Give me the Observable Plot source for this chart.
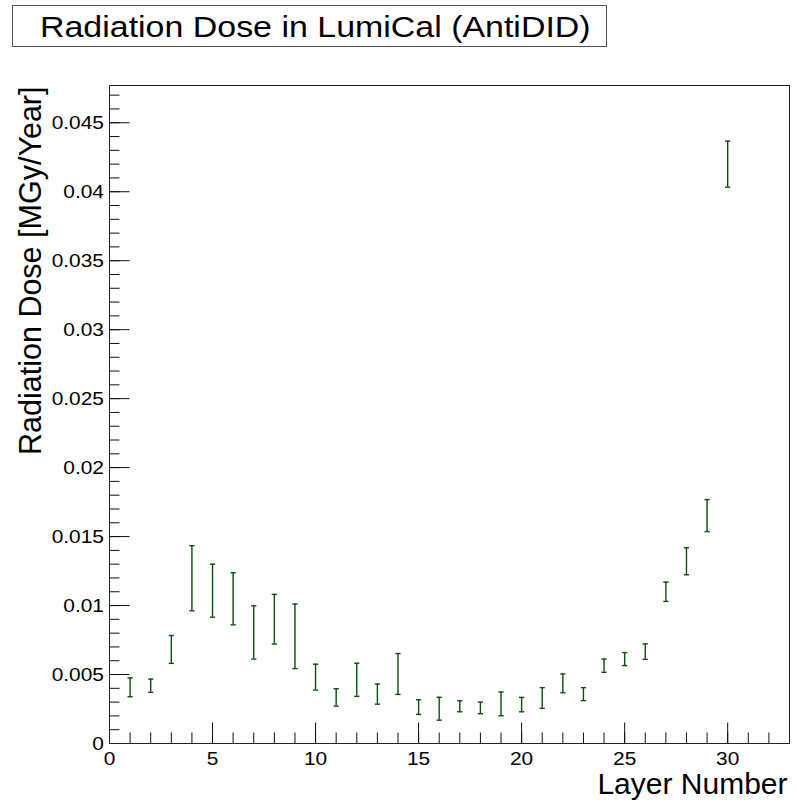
<!DOCTYPE html>
<html>
<head>
<meta charset="utf-8">
<script src="https://cdn.jsdelivr.net/npm/d3@7"></script>
<script src="https://cdn.jsdelivr.net/npm/@observablehq/plot@0.6"></script>
<style>
  body { margin: 0; background: white; }
  #wrap { position: relative; width: 798px; height: 810px; font-family: "Liberation Sans", Arial, sans-serif; }
  #title { position: absolute; left: 12px; top: 5px; width: 595px; height: 42px; box-sizing: border-box; border: 1px solid #555; background: white; }
  #title span { position: absolute; left: 27px; top: 7px; font-size: 29px; line-height: 29px; white-space: nowrap; transform: scaleX(1.17); transform-origin: left center; color: #000; }
</style>
</head>
<body>
<div id="wrap">
  <div id="chart"></div>
  <div id="title"><span>Radiation Dose in LumiCal (AntiDID)</span></div>
</div>
<script>
const titleText = "Radiation Dose in LumiCal (AntiDID)";
const xLabel = "Layer Number";
const yLabel = "Radiation Dose [MGy/Year]";

const layers = d3.range(1, 31);
const dose = [0.00407, 0.00419, 0.00682, 0.01198, 0.01108, 0.01049, 0.00805, 0.00901, 0.00777, 0.00481,
              0.00334, 0.00462, 0.00358, 0.00504, 0.00264, 0.00252, 0.00270, 0.00258, 0.00287, 0.00282,
              0.00330, 0.00436, 0.00358, 0.00564, 0.00612, 0.00666, 0.01100, 0.01321, 0.01652, 0.04200];
const err  = [0.00068, 0.00048, 0.00101, 0.00236, 0.00192, 0.00189, 0.00193, 0.00180, 0.00234, 0.00094,
              0.00063, 0.00120, 0.00073, 0.00148, 0.00053, 0.00083, 0.00040, 0.00042, 0.00086, 0.00052,
              0.00075, 0.00068, 0.00047, 0.00048, 0.00047, 0.00056, 0.00070, 0.00098, 0.00116, 0.00167];

const xMajor = [0, 5, 10, 15, 20, 25, 30];
const xMinor = d3.range(0, 34);
const yMajor = [0, 0.005, 0.01, 0.015, 0.02, 0.025, 0.03, 0.035, 0.04, 0.045];
const yMajorLabels = ["0", "0.005", "0.01", "0.015", "0.02", "0.025", "0.03", "0.035", "0.04", "0.045"];
const yMinor = d3.range(0, 48).map(i => i / 1000);

const table = layers.map((l, i) => ({layer: l, lo: dose[i] - err[i], hi: dose[i] + err[i]}));

const green = "#0c4f0c";
const capSymbol = { draw(ctx, size) { const w = Math.sqrt(size / Math.PI); ctx.moveTo(-w, 0); ctx.lineTo(w, 0); } };

const chart = Plot.plot({
  width: 798,
  height: 810,
  marginLeft: 109,
  marginRight: 9,
  marginTop: 85,
  marginBottom: 67,
  style: { fontFamily: "Liberation Sans, Arial, sans-serif", fontSize: "19px", background: "white", color: "#000" },
  x: { domain: [0, 33] },
  y: { domain: [0, 0.0477] },
  marks: [
    Plot.ruleX(table, { x: "layer", y1: "lo", y2: "hi", stroke: green, strokeWidth: 1.4 }),
    Plot.dot(table, { x: "layer", y: "lo", symbol: capSymbol, r: 2.6, stroke: green, strokeWidth: 1.4, fill: "none" }),
    Plot.dot(table, { x: "layer", y: "hi", symbol: capSymbol, r: 2.6, stroke: green, strokeWidth: 1.4, fill: "none" }),
    Plot.axisX({ ticks: xMinor, tickSize: -10.5, tickFormat: () => "", label: null, stroke: "#111" }),
    Plot.axisX({ ticks: xMajor, tickSize: -20.5, tickFormat: () => "", label: null, stroke: "#111" }),
    Plot.axisX({ ticks: xMajor, tickSize: 0, tickPadding: 8, tickFormat: d => String(d), label: null, fill: "#000" }),
    Plot.axisY({ ticks: yMinor, tickSize: -10.5, tickFormat: () => "", label: null, stroke: "#111" }),
    Plot.axisY({ ticks: yMajor, tickSize: -20.5, tickFormat: () => "", label: null, stroke: "#111" }),
    Plot.axisY({ ticks: yMajor, tickSize: 0, tickPadding: 5.5, tickFormat: (d, i) => yMajorLabels[i], label: null, fill: "#000" }),
    Plot.frame({ stroke: "#222" }),
    Plot.text([xLabel], { frameAnchor: "bottom-right", textAnchor: "end", lineAnchor: "middle", dx: -2, dy: 41, fontSize: 30, fill: "#000", ariaLabel: "xlabel" }),
    Plot.text([yLabel], { frameAnchor: "top-left", rotate: -90, textAnchor: "end", lineAnchor: "middle", dx: -78, dy: 1, fontSize: 30.5, fill: "#000", ariaLabel: "ylabel" })
  ]
});

chart.querySelectorAll('g[aria-label="x-axis tick label"] text, g[aria-label="y-axis tick label"] text').forEach(t => {
  t.setAttribute("transform", (t.getAttribute("transform") || "") + " scale(1.1,1)");
});
chart.querySelectorAll('g[aria-label="xlabel"] text').forEach(t => {
  t.setAttribute("transform", (t.getAttribute("transform") || "") + " scale(1.07,1)");
});

document.getElementById("chart").appendChild(chart);
</script>
</body>
</html>
